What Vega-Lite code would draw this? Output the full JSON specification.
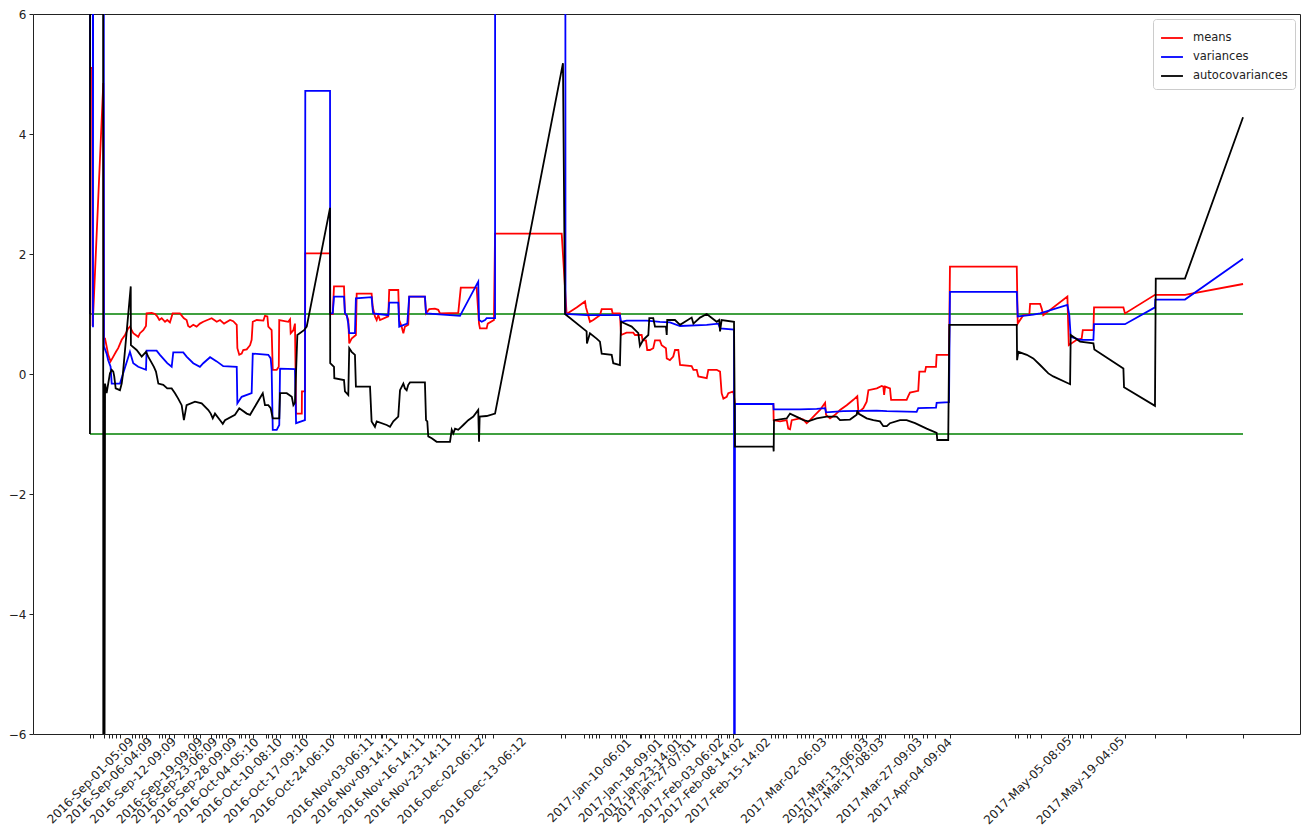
{
"$schema":"https://vega.github.io/schema/vega-lite/v6.json",
"width":1267,"height":720,
"autosize":{"type":"none"},
"padding":{"left":33,"top":14,"right":5,"bottom":98},
"background":"white",
"config":{
 "view":{"stroke":"#222","strokeWidth":1},
 "font":"DejaVu Sans",
 "axis":{"grid":false,"domain":false,"title":null,"labelFont":"DejaVu Sans","labelFontSize":12,"labelColor":"#222","tickColor":"#222","tickSize":4},
 "legend":{"orient":"top-right","offset":5,"padding":7,"strokeColor":"#cccccc","fillColor":"white","cornerRadius":3,"symbolType":"stroke","symbolSize":480,"symbolStrokeWidth":1.8,"labelFontSize":11.5,"labelFont":"DejaVu Sans","labelColor":"#222","rowPadding":1,"labelOffset":9,"title":null}
},
"datasets":{
"bounds":[{"date":"2016-09-01T05:00","end":"2017-07-01T00:00","value":1},{"date":"2016-09-01T05:00","end":"2017-07-01T00:00","value":-1}],
"series":[
{"series":"means","date":"2016-09-01T05:00","value":5.1},
{"series":"means","date":"2016-09-01T18:00","value":5.1},
{"series":"means","date":"2016-09-01T22:00","value":0.8},
{"series":"means","date":"2016-09-04T17:00","value":4.85},
{"series":"means","date":"2016-09-04T21:00","value":0.59},
{"series":"means","date":"2016-09-05T04:00","value":0.59},
{"series":"means","date":"2016-09-05T14:00","value":0.46},
{"series":"means","date":"2016-09-06T00:00","value":0.32},
{"series":"means","date":"2016-09-06T15:00","value":0.21},
{"series":"means","date":"2016-09-07T08:00","value":0.29},
{"series":"means","date":"2016-09-08T01:00","value":0.37},
{"series":"means","date":"2016-09-08T15:00","value":0.43},
{"series":"means","date":"2016-09-09T13:00","value":0.57},
{"series":"means","date":"2016-09-10T10:00","value":0.65},
{"series":"means","date":"2016-09-11T06:00","value":0.76},
{"series":"means","date":"2016-09-11T17:00","value":0.79},
{"series":"means","date":"2016-09-12T04:00","value":0.73},
{"series":"means","date":"2016-09-12T14:00","value":0.68},
{"series":"means","date":"2016-09-13T21:00","value":0.62},
{"series":"means","date":"2016-09-14T08:00","value":0.68},
{"series":"means","date":"2016-09-15T05:00","value":0.73},
{"series":"means","date":"2016-09-15T22:00","value":0.8},
{"series":"means","date":"2016-09-16T02:00","value":1.01},
{"series":"means","date":"2016-09-17T10:00","value":1.02},
{"series":"means","date":"2016-09-18T07:00","value":1.0},
{"series":"means","date":"2016-09-18T21:00","value":0.96},
{"series":"means","date":"2016-09-19T10:00","value":0.9},
{"series":"means","date":"2016-09-20T01:00","value":0.93},
{"series":"means","date":"2016-09-20T22:00","value":0.87},
{"series":"means","date":"2016-09-21T12:00","value":0.9},
{"series":"means","date":"2016-09-22T05:00","value":0.86},
{"series":"means","date":"2016-09-22T22:00","value":1.01},
{"series":"means","date":"2016-09-24T20:00","value":1.01},
{"series":"means","date":"2016-09-25T21:00","value":0.93},
{"series":"means","date":"2016-09-26T14:00","value":0.9},
{"series":"means","date":"2016-09-27T00:00","value":0.8},
{"series":"means","date":"2016-09-27T11:00","value":0.78},
{"series":"means","date":"2016-09-28T08:00","value":0.82},
{"series":"means","date":"2016-09-29T05:00","value":0.79},
{"series":"means","date":"2016-09-30T02:00","value":0.84},
{"series":"means","date":"2016-09-30T23:00","value":0.87},
{"series":"means","date":"2016-10-02T01:00","value":0.9},
{"series":"means","date":"2016-10-03T04:00","value":0.93},
{"series":"means","date":"2016-10-04T12:00","value":0.87},
{"series":"means","date":"2016-10-05T09:00","value":0.9},
{"series":"means","date":"2016-10-06T10:00","value":0.84},
{"series":"means","date":"2016-10-08T00:00","value":0.9},
{"series":"means","date":"2016-10-08T20:00","value":0.88},
{"series":"means","date":"2016-10-09T18:00","value":0.82},
{"series":"means","date":"2016-10-09T22:00","value":0.43},
{"series":"means","date":"2016-10-10T10:00","value":0.32},
{"series":"means","date":"2016-10-11T01:00","value":0.34},
{"series":"means","date":"2016-10-11T11:00","value":0.4},
{"series":"means","date":"2016-10-12T09:00","value":0.41},
{"series":"means","date":"2016-10-13T06:00","value":0.48},
{"series":"means","date":"2016-10-13T16:00","value":0.57},
{"series":"means","date":"2016-10-13T23:00","value":0.87},
{"series":"means","date":"2016-10-15T00:00","value":0.9},
{"series":"means","date":"2016-10-16T18:00","value":0.89},
{"series":"means","date":"2016-10-17T04:00","value":0.97},
{"series":"means","date":"2016-10-17T19:00","value":0.96},
{"series":"means","date":"2016-10-18T01:00","value":0.79},
{"series":"means","date":"2016-10-18T22:00","value":0.73},
{"series":"means","date":"2016-10-19T05:00","value":0.07},
{"series":"means","date":"2016-10-20T06:00","value":0.07},
{"series":"means","date":"2016-10-20T19:00","value":0.12},
{"series":"means","date":"2016-10-20T22:00","value":0.9},
{"series":"means","date":"2016-10-23T07:00","value":0.87},
{"series":"means","date":"2016-10-23T18:00","value":0.91},
{"series":"means","date":"2016-10-23T22:00","value":0.68},
{"series":"means","date":"2016-10-24T15:00","value":0.73},
{"series":"means","date":"2016-10-25T01:00","value":0.84},
{"series":"means","date":"2016-10-25T08:00","value":-0.66},
{"series":"means","date":"2016-10-26T20:00","value":-0.66},
{"series":"means","date":"2016-10-26T21:00","value":-0.29},
{"series":"means","date":"2016-10-27T16:00","value":-0.29},
{"series":"means","date":"2016-10-27T18:00","value":2.01},
{"series":"means","date":"2016-11-03T06:00","value":2.01},
{"series":"means","date":"2016-11-03T07:00","value":1.0},
{"series":"means","date":"2016-11-03T23:00","value":1.0},
{"series":"means","date":"2016-11-04T07:00","value":1.46},
{"series":"means","date":"2016-11-06T22:00","value":1.46},
{"series":"means","date":"2016-11-07T04:00","value":1.0},
{"series":"means","date":"2016-11-07T15:00","value":0.98},
{"series":"means","date":"2016-11-08T01:00","value":0.9},
{"series":"means","date":"2016-11-08T07:00","value":0.51},
{"series":"means","date":"2016-11-08T22:00","value":0.59},
{"series":"means","date":"2016-11-10T01:00","value":0.65},
{"series":"means","date":"2016-11-10T06:00","value":1.34},
{"series":"means","date":"2016-11-14T04:00","value":1.34},
{"series":"means","date":"2016-11-14T11:00","value":1.12},
{"series":"means","date":"2016-11-15T01:00","value":0.96},
{"series":"means","date":"2016-11-15T12:00","value":0.9},
{"series":"means","date":"2016-11-15T22:00","value":0.98},
{"series":"means","date":"2016-11-16T09:00","value":0.9},
{"series":"means","date":"2016-11-18T13:00","value":0.96},
{"series":"means","date":"2016-11-18T19:00","value":1.4},
{"series":"means","date":"2016-11-21T04:00","value":1.4},
{"series":"means","date":"2016-11-21T10:00","value":0.9},
{"series":"means","date":"2016-11-22T01:00","value":0.79},
{"series":"means","date":"2016-11-22T12:00","value":0.68},
{"series":"means","date":"2016-11-22T22:00","value":0.79},
{"series":"means","date":"2016-11-23T19:00","value":0.82},
{"series":"means","date":"2016-11-24T01:00","value":1.29},
{"series":"means","date":"2016-11-28T04:00","value":1.29},
{"series":"means","date":"2016-11-28T11:00","value":1.01},
{"series":"means","date":"2016-11-29T07:00","value":1.08},
{"series":"means","date":"2016-11-30T19:00","value":1.09},
{"series":"means","date":"2016-12-01T16:00","value":1.07},
{"series":"means","date":"2016-12-02T03:00","value":1.01},
{"series":"means","date":"2016-12-06T22:00","value":1.02},
{"series":"means","date":"2016-12-07T14:00","value":1.44},
{"series":"means","date":"2016-12-11T18:00","value":1.44},
{"series":"means","date":"2016-12-12T09:00","value":0.84},
{"series":"means","date":"2016-12-12T15:00","value":0.76},
{"series":"means","date":"2016-12-14T09:00","value":0.76},
{"series":"means","date":"2016-12-14T16:00","value":0.84},
{"series":"means","date":"2016-12-16T07:00","value":0.9},
{"series":"means","date":"2016-12-16T14:00","value":2.34},
{"series":"means","date":"2017-01-03T02:00","value":2.34},
{"series":"means","date":"2017-01-04T09:00","value":1.0},
{"series":"means","date":"2017-01-07T00:00","value":1.11},
{"series":"means","date":"2017-01-09T05:00","value":1.21},
{"series":"means","date":"2017-01-09T11:00","value":1.11},
{"series":"means","date":"2017-01-10T01:00","value":0.98},
{"series":"means","date":"2017-01-10T12:00","value":0.87},
{"series":"means","date":"2017-01-11T09:00","value":0.9},
{"series":"means","date":"2017-01-13T03:00","value":0.98},
{"series":"means","date":"2017-01-13T14:00","value":1.08},
{"series":"means","date":"2017-01-16T05:00","value":1.08},
{"series":"means","date":"2017-01-16T11:00","value":1.01},
{"series":"means","date":"2017-01-18T09:00","value":1.01},
{"series":"means","date":"2017-01-18T16:00","value":0.65},
{"series":"means","date":"2017-01-20T03:00","value":0.69},
{"series":"means","date":"2017-01-21T21:00","value":0.69},
{"series":"means","date":"2017-01-22T08:00","value":0.65},
{"series":"means","date":"2017-01-24T02:00","value":0.65},
{"series":"means","date":"2017-01-24T08:00","value":0.56},
{"series":"means","date":"2017-01-25T05:00","value":0.56},
{"series":"means","date":"2017-01-25T13:00","value":0.4},
{"series":"means","date":"2017-01-26T06:00","value":0.4},
{"series":"means","date":"2017-01-27T03:00","value":0.43},
{"series":"means","date":"2017-01-27T14:00","value":0.56},
{"series":"means","date":"2017-01-28T21:00","value":0.56},
{"series":"means","date":"2017-01-29T08:00","value":0.48},
{"series":"means","date":"2017-01-30T11:00","value":0.43},
{"series":"means","date":"2017-01-30T16:00","value":0.26},
{"series":"means","date":"2017-01-31T12:00","value":0.23},
{"series":"means","date":"2017-02-01T09:00","value":0.29},
{"series":"means","date":"2017-02-01T20:00","value":0.4},
{"series":"means","date":"2017-02-02T17:00","value":0.4},
{"series":"means","date":"2017-02-03T04:00","value":0.15},
{"series":"means","date":"2017-02-06T05:00","value":0.13},
{"series":"means","date":"2017-02-06T16:00","value":0.07},
{"series":"means","date":"2017-02-07T13:00","value":0.07},
{"series":"means","date":"2017-02-07T23:00","value":-0.04},
{"series":"means","date":"2017-02-10T04:00","value":-0.07},
{"series":"means","date":"2017-02-10T14:00","value":0.07},
{"series":"means","date":"2017-02-12T19:00","value":0.07},
{"series":"means","date":"2017-02-13T16:00","value":0.04},
{"series":"means","date":"2017-02-14T02:00","value":-0.32},
{"series":"means","date":"2017-02-14T13:00","value":-0.41},
{"series":"means","date":"2017-02-15T10:00","value":-0.38},
{"series":"means","date":"2017-02-15T20:00","value":-0.32},
{"series":"means","date":"2017-02-17T04:00","value":-0.29},
{"series":"means","date":"2017-02-17T14:00","value":-0.5},
{"series":"means","date":"2017-02-27T16:00","value":-0.5},
{"series":"means","date":"2017-02-27T18:00","value":-0.77},
{"series":"means","date":"2017-03-01T10:00","value":-0.79},
{"series":"means","date":"2017-03-03T04:00","value":-0.77},
{"series":"means","date":"2017-03-03T14:00","value":-0.91},
{"series":"means","date":"2017-03-04T01:00","value":-0.92},
{"series":"means","date":"2017-03-04T12:00","value":-0.77},
{"series":"means","date":"2017-03-06T16:00","value":-0.74},
{"series":"means","date":"2017-03-07T13:00","value":-0.76},
{"series":"means","date":"2017-03-08T10:00","value":-0.82},
{"series":"means","date":"2017-03-09T07:00","value":-0.77},
{"series":"means","date":"2017-03-10T15:00","value":-0.68},
{"series":"means","date":"2017-03-11T22:00","value":-0.6},
{"series":"means","date":"2017-03-13T06:00","value":-0.48},
{"series":"means","date":"2017-03-13T12:00","value":-0.68},
{"series":"means","date":"2017-03-14T13:00","value":-0.74},
{"series":"means","date":"2017-03-15T21:00","value":-0.68},
{"series":"means","date":"2017-03-17T04:00","value":-0.6},
{"series":"means","date":"2017-03-18T22:00","value":-0.52},
{"series":"means","date":"2017-03-20T16:00","value":-0.43},
{"series":"means","date":"2017-03-21T17:00","value":-0.37},
{"series":"means","date":"2017-03-22T00:00","value":-0.64},
{"series":"means","date":"2017-03-23T07:00","value":-0.57},
{"series":"means","date":"2017-03-24T04:00","value":-0.46},
{"series":"means","date":"2017-03-24T15:00","value":-0.27},
{"series":"means","date":"2017-03-26T20:00","value":-0.24},
{"series":"means","date":"2017-03-28T03:00","value":-0.2},
{"series":"means","date":"2017-03-28T13:00","value":-0.21},
{"series":"means","date":"2017-03-28T18:00","value":-0.35},
{"series":"means","date":"2017-03-29T00:00","value":-0.21},
{"series":"means","date":"2017-03-30T07:00","value":-0.24},
{"series":"means","date":"2017-03-30T14:00","value":-0.43},
{"series":"means","date":"2017-04-03T16:00","value":-0.43},
{"series":"means","date":"2017-04-04T02:00","value":-0.37},
{"series":"means","date":"2017-04-04T13:00","value":-0.31},
{"series":"means","date":"2017-04-06T17:00","value":-0.28},
{"series":"means","date":"2017-04-07T00:00","value":0.04},
{"series":"means","date":"2017-04-08T12:00","value":0.04},
{"series":"means","date":"2017-04-08T18:00","value":0.12},
{"series":"means","date":"2017-04-11T09:00","value":0.12},
{"series":"means","date":"2017-04-11T13:00","value":0.32},
{"series":"means","date":"2017-04-14T19:00","value":0.32},
{"series":"means","date":"2017-04-15T01:00","value":1.79},
{"series":"means","date":"2017-05-02T14:00","value":1.79},
{"series":"means","date":"2017-05-02T20:00","value":0.84},
{"series":"means","date":"2017-05-04T07:00","value":0.98},
{"series":"means","date":"2017-05-05T21:00","value":0.98},
{"series":"means","date":"2017-05-06T02:00","value":1.17},
{"series":"means","date":"2017-05-08T17:00","value":1.17},
{"series":"means","date":"2017-05-09T03:00","value":1.09},
{"series":"means","date":"2017-05-09T13:00","value":0.98},
{"series":"means","date":"2017-05-15T21:00","value":1.29},
{"series":"means","date":"2017-05-16T06:00","value":0.48},
{"series":"means","date":"2017-05-18T08:00","value":0.57},
{"series":"means","date":"2017-05-19T15:00","value":0.59},
{"series":"means","date":"2017-05-19T22:00","value":0.73},
{"series":"means","date":"2017-05-22T17:00","value":0.73},
{"series":"means","date":"2017-05-22T21:00","value":1.11},
{"series":"means","date":"2017-05-30T14:00","value":1.11},
{"series":"means","date":"2017-05-31T00:00","value":1.01},
{"series":"means","date":"2017-06-07T21:00","value":1.32},
{"series":"means","date":"2017-06-15T18:00","value":1.32},
{"series":"means","date":"2017-07-01T00:00","value":1.5},
{"series":"variances","date":"2016-09-01T05:00","value":1.0},
{"series":"variances","date":"2016-09-01T07:00","value":20},
{"series":"variances","date":"2016-09-01T21:00","value":20},
{"series":"variances","date":"2016-09-02T00:00","value":0.78},
{"series":"variances","date":"2016-09-02T03:00","value":20},
{"series":"variances","date":"2016-09-04T18:00","value":20},
{"series":"variances","date":"2016-09-04T21:00","value":0.46},
{"series":"variances","date":"2016-09-05T14:00","value":0.34},
{"series":"variances","date":"2016-09-06T00:00","value":0.23},
{"series":"variances","date":"2016-09-06T15:00","value":0.12},
{"series":"variances","date":"2016-09-06T22:00","value":-0.16},
{"series":"variances","date":"2016-09-09T02:00","value":-0.16},
{"series":"variances","date":"2016-09-11T17:00","value":0.37},
{"series":"variances","date":"2016-09-12T14:00","value":0.18},
{"series":"variances","date":"2016-09-13T21:00","value":0.12},
{"series":"variances","date":"2016-09-15T22:00","value":0.07},
{"series":"variances","date":"2016-09-16T02:00","value":0.39},
{"series":"variances","date":"2016-09-18T17:00","value":0.39},
{"series":"variances","date":"2016-09-19T14:00","value":0.32},
{"series":"variances","date":"2016-09-21T12:00","value":0.18},
{"series":"variances","date":"2016-09-22T16:00","value":0.12},
{"series":"variances","date":"2016-09-23T02:00","value":0.36},
{"series":"variances","date":"2016-09-25T17:00","value":0.36},
{"series":"variances","date":"2016-09-26T14:00","value":0.29},
{"series":"variances","date":"2016-09-28T08:00","value":0.18},
{"series":"variances","date":"2016-09-30T02:00","value":0.12},
{"series":"variances","date":"2016-09-30T23:00","value":0.18},
{"series":"variances","date":"2016-10-02T18:00","value":0.28},
{"series":"variances","date":"2016-10-04T12:00","value":0.21},
{"series":"variances","date":"2016-10-06T05:00","value":0.13},
{"series":"variances","date":"2016-10-09T18:00","value":0.12},
{"series":"variances","date":"2016-10-09T22:00","value":-0.49},
{"series":"variances","date":"2016-10-11T01:00","value":-0.38},
{"series":"variances","date":"2016-10-13T16:00","value":-0.32},
{"series":"variances","date":"2016-10-13T23:00","value":0.34},
{"series":"variances","date":"2016-10-18T01:00","value":0.32},
{"series":"variances","date":"2016-10-18T16:00","value":0.26},
{"series":"variances","date":"2016-10-18T22:00","value":0.07},
{"series":"variances","date":"2016-10-19T05:00","value":-0.93},
{"series":"variances","date":"2016-10-20T06:00","value":-0.93},
{"series":"variances","date":"2016-10-20T22:00","value":-0.85},
{"series":"variances","date":"2016-10-21T03:00","value":0.09},
{"series":"variances","date":"2016-10-25T01:00","value":0.08},
{"series":"variances","date":"2016-10-25T08:00","value":-0.82},
{"series":"variances","date":"2016-10-27T16:00","value":-0.77},
{"series":"variances","date":"2016-10-27T18:00","value":4.72},
{"series":"variances","date":"2016-11-03T06:00","value":4.72},
{"series":"variances","date":"2016-11-03T07:00","value":1.01},
{"series":"variances","date":"2016-11-03T23:00","value":1.01},
{"series":"variances","date":"2016-11-04T07:00","value":1.29},
{"series":"variances","date":"2016-11-06T22:00","value":1.29},
{"series":"variances","date":"2016-11-07T04:00","value":1.01},
{"series":"variances","date":"2016-11-07T15:00","value":0.98},
{"series":"variances","date":"2016-11-08T01:00","value":0.84},
{"series":"variances","date":"2016-11-08T07:00","value":0.68},
{"series":"variances","date":"2016-11-09T19:00","value":0.68},
{"series":"variances","date":"2016-11-10T01:00","value":1.26},
{"series":"variances","date":"2016-11-14T04:00","value":1.28},
{"series":"variances","date":"2016-11-14T11:00","value":1.07},
{"series":"variances","date":"2016-11-14T14:00","value":1.01},
{"series":"variances","date":"2016-11-18T13:00","value":0.98},
{"series":"variances","date":"2016-11-18T19:00","value":1.19},
{"series":"variances","date":"2016-11-21T04:00","value":1.19},
{"series":"variances","date":"2016-11-21T10:00","value":0.79},
{"series":"variances","date":"2016-11-23T13:00","value":0.84},
{"series":"variances","date":"2016-11-24T01:00","value":1.29},
{"series":"variances","date":"2016-11-28T04:00","value":1.29},
{"series":"variances","date":"2016-11-28T11:00","value":1.01},
{"series":"variances","date":"2016-12-07T09:00","value":0.97},
{"series":"variances","date":"2016-12-12T04:00","value":1.54},
{"series":"variances","date":"2016-12-12T09:00","value":0.9},
{"series":"variances","date":"2016-12-13T02:00","value":0.87},
{"series":"variances","date":"2016-12-13T23:00","value":0.9},
{"series":"variances","date":"2016-12-14T09:00","value":0.93},
{"series":"variances","date":"2016-12-16T14:00","value":0.93},
{"series":"variances","date":"2016-12-16T15:00","value":20},
{"series":"variances","date":"2017-01-03T23:00","value":20},
{"series":"variances","date":"2017-01-04T02:00","value":1.0},
{"series":"variances","date":"2017-01-09T15:00","value":0.98},
{"series":"variances","date":"2017-01-18T09:00","value":0.98},
{"series":"variances","date":"2017-01-18T16:00","value":0.87},
{"series":"variances","date":"2017-01-20T03:00","value":0.89},
{"series":"variances","date":"2017-01-25T10:00","value":0.89},
{"series":"variances","date":"2017-01-28T21:00","value":0.87},
{"series":"variances","date":"2017-01-31T12:00","value":0.86},
{"series":"variances","date":"2017-02-03T04:00","value":0.8},
{"series":"variances","date":"2017-02-10T04:00","value":0.82},
{"series":"variances","date":"2017-02-13T05:00","value":0.84},
{"series":"variances","date":"2017-02-13T16:00","value":0.76},
{"series":"variances","date":"2017-02-17T08:00","value":0.74},
{"series":"variances","date":"2017-02-17T10:00","value":-20},
{"series":"variances","date":"2017-02-17T14:00","value":-0.5},
{"series":"variances","date":"2017-02-27T16:00","value":-0.5},
{"series":"variances","date":"2017-02-27T18:00","value":-0.59},
{"series":"variances","date":"2017-03-06T16:00","value":-0.59},
{"series":"variances","date":"2017-03-11T01:00","value":-0.58},
{"series":"variances","date":"2017-03-13T06:00","value":-0.57},
{"series":"variances","date":"2017-03-13T12:00","value":-0.64},
{"series":"variances","date":"2017-03-18T01:00","value":-0.62},
{"series":"variances","date":"2017-03-26T20:00","value":-0.61},
{"series":"variances","date":"2017-03-29T11:00","value":-0.62},
{"series":"variances","date":"2017-04-06T07:00","value":-0.63},
{"series":"variances","date":"2017-04-06T17:00","value":-0.57},
{"series":"variances","date":"2017-04-11T09:00","value":-0.56},
{"series":"variances","date":"2017-04-11T13:00","value":-0.48},
{"series":"variances","date":"2017-04-14T19:00","value":-0.47},
{"series":"variances","date":"2017-04-15T01:00","value":1.37},
{"series":"variances","date":"2017-05-02T14:00","value":1.37},
{"series":"variances","date":"2017-05-02T20:00","value":0.96},
{"series":"variances","date":"2017-05-06T22:00","value":0.99},
{"series":"variances","date":"2017-05-08T17:00","value":1.01},
{"series":"variances","date":"2017-05-15T21:00","value":1.15},
{"series":"variances","date":"2017-05-16T09:00","value":0.98},
{"series":"variances","date":"2017-05-16T18:00","value":0.62},
{"series":"variances","date":"2017-05-19T05:00","value":0.57},
{"series":"variances","date":"2017-05-22T17:00","value":0.57},
{"series":"variances","date":"2017-05-22T21:00","value":0.83},
{"series":"variances","date":"2017-05-31T00:00","value":0.83},
{"series":"variances","date":"2017-06-07T21:00","value":1.11},
{"series":"variances","date":"2017-06-07T23:00","value":1.24},
{"series":"variances","date":"2017-06-15T18:00","value":1.24},
{"series":"variances","date":"2017-07-01T00:00","value":1.92},
{"series":"autocovariances","date":"2016-09-01T05:00","value":-1},
{"series":"autocovariances","date":"2016-09-01T07:00","value":20},
{"series":"autocovariances","date":"2016-09-04T15:00","value":20},
{"series":"autocovariances","date":"2016-09-04T18:00","value":-20},
{"series":"autocovariances","date":"2016-09-05T04:00","value":-0.16},
{"series":"autocovariances","date":"2016-09-05T14:00","value":-0.32},
{"series":"autocovariances","date":"2016-09-06T00:00","value":-0.16},
{"series":"autocovariances","date":"2016-09-06T11:00","value":0.01},
{"series":"autocovariances","date":"2016-09-06T22:00","value":0.07},
{"series":"autocovariances","date":"2016-09-07T08:00","value":0.04},
{"series":"autocovariances","date":"2016-09-07T14:00","value":-0.04},
{"series":"autocovariances","date":"2016-09-07T23:00","value":-0.24},
{"series":"autocovariances","date":"2016-09-09T02:00","value":-0.27},
{"series":"autocovariances","date":"2016-09-09T13:00","value":-0.16},
{"series":"autocovariances","date":"2016-09-09T19:00","value":-0.04},
{"series":"autocovariances","date":"2016-09-11T22:00","value":1.46},
{"series":"autocovariances","date":"2016-09-11T23:00","value":0.48},
{"series":"autocovariances","date":"2016-09-13T11:00","value":0.4},
{"series":"autocovariances","date":"2016-09-14T19:00","value":0.29},
{"series":"autocovariances","date":"2016-09-15T05:00","value":0.32},
{"series":"autocovariances","date":"2016-09-15T22:00","value":0.37},
{"series":"autocovariances","date":"2016-09-16T12:00","value":0.29},
{"series":"autocovariances","date":"2016-09-18T00:00","value":0.12},
{"series":"autocovariances","date":"2016-09-18T13:00","value":0.04},
{"series":"autocovariances","date":"2016-09-19T04:00","value":-0.16},
{"series":"autocovariances","date":"2016-09-20T11:00","value":-0.18},
{"series":"autocovariances","date":"2016-09-21T12:00","value":-0.24},
{"series":"autocovariances","date":"2016-09-22T16:00","value":-0.24},
{"series":"autocovariances","date":"2016-09-23T13:00","value":-0.32},
{"series":"autocovariances","date":"2016-09-24T09:00","value":-0.41},
{"series":"autocovariances","date":"2016-09-25T07:00","value":-0.52},
{"series":"autocovariances","date":"2016-09-25T21:00","value":-0.77},
{"series":"autocovariances","date":"2016-09-26T14:00","value":-0.52},
{"series":"autocovariances","date":"2016-09-28T19:00","value":-0.46},
{"series":"autocovariances","date":"2016-09-30T13:00","value":-0.49},
{"series":"autocovariances","date":"2016-10-02T07:00","value":-0.6},
{"series":"autocovariances","date":"2016-10-02T22:00","value":-0.66},
{"series":"autocovariances","date":"2016-10-03T11:00","value":-0.74},
{"series":"autocovariances","date":"2016-10-04T01:00","value":-0.66},
{"series":"autocovariances","date":"2016-10-05T09:00","value":-0.77},
{"series":"autocovariances","date":"2016-10-06T02:00","value":-0.83},
{"series":"autocovariances","date":"2016-10-06T16:00","value":-0.77},
{"series":"autocovariances","date":"2016-10-09T07:00","value":-0.68},
{"series":"autocovariances","date":"2016-10-10T10:00","value":-0.57},
{"series":"autocovariances","date":"2016-10-12T09:00","value":-0.66},
{"series":"autocovariances","date":"2016-10-13T06:00","value":-0.68},
{"series":"autocovariances","date":"2016-10-16T14:00","value":-0.32},
{"series":"autocovariances","date":"2016-10-17T04:00","value":-0.52},
{"series":"autocovariances","date":"2016-10-18T01:00","value":-0.52},
{"series":"autocovariances","date":"2016-10-18T16:00","value":-0.57},
{"series":"autocovariances","date":"2016-10-19T05:00","value":-0.74},
{"series":"autocovariances","date":"2016-10-20T22:00","value":-0.74},
{"series":"autocovariances","date":"2016-10-21T03:00","value":-0.32},
{"series":"autocovariances","date":"2016-10-22T21:00","value":-0.32},
{"series":"autocovariances","date":"2016-10-24T05:00","value":-0.38},
{"series":"autocovariances","date":"2016-10-24T15:00","value":-0.52},
{"series":"autocovariances","date":"2016-10-25T01:00","value":-0.48},
{"series":"autocovariances","date":"2016-10-25T16:00","value":0.65},
{"series":"autocovariances","date":"2016-10-27T10:00","value":0.73},
{"series":"autocovariances","date":"2016-10-28T03:00","value":0.79},
{"series":"autocovariances","date":"2016-11-03T06:00","value":2.77},
{"series":"autocovariances","date":"2016-11-03T07:00","value":0.18},
{"series":"autocovariances","date":"2016-11-04T07:00","value":0.12},
{"series":"autocovariances","date":"2016-11-04T09:00","value":-0.07},
{"series":"autocovariances","date":"2016-11-06T22:00","value":-0.1},
{"series":"autocovariances","date":"2016-11-07T04:00","value":-0.29},
{"series":"autocovariances","date":"2016-11-08T01:00","value":-0.35},
{"series":"autocovariances","date":"2016-11-08T07:00","value":0.43},
{"series":"autocovariances","date":"2016-11-08T22:00","value":0.37},
{"series":"autocovariances","date":"2016-11-09T19:00","value":0.32},
{"series":"autocovariances","date":"2016-11-10T01:00","value":-0.21},
{"series":"autocovariances","date":"2016-11-13T18:00","value":-0.21},
{"series":"autocovariances","date":"2016-11-14T04:00","value":-0.79},
{"series":"autocovariances","date":"2016-11-15T01:00","value":-0.88},
{"series":"autocovariances","date":"2016-11-15T12:00","value":-0.79},
{"series":"autocovariances","date":"2016-11-18T03:00","value":-0.85},
{"series":"autocovariances","date":"2016-11-19T00:00","value":-0.88},
{"series":"autocovariances","date":"2016-11-19T21:00","value":-0.79},
{"series":"autocovariances","date":"2016-11-21T04:00","value":-0.71},
{"series":"autocovariances","date":"2016-11-21T15:00","value":-0.27},
{"series":"autocovariances","date":"2016-11-22T12:00","value":-0.16},
{"series":"autocovariances","date":"2016-11-22T22:00","value":-0.24},
{"series":"autocovariances","date":"2016-11-23T09:00","value":-0.27},
{"series":"autocovariances","date":"2016-11-23T19:00","value":-0.18},
{"series":"autocovariances","date":"2016-11-24T06:00","value":-0.14},
{"series":"autocovariances","date":"2016-11-28T04:00","value":-0.14},
{"series":"autocovariances","date":"2016-11-28T11:00","value":-0.77},
{"series":"autocovariances","date":"2016-11-28T19:00","value":-0.79},
{"series":"autocovariances","date":"2016-11-29T01:00","value":-1.04},
{"series":"autocovariances","date":"2016-11-29T23:00","value":-1.07},
{"series":"autocovariances","date":"2016-12-01T06:00","value":-1.13},
{"series":"autocovariances","date":"2016-12-04T18:00","value":-1.13},
{"series":"autocovariances","date":"2016-12-05T05:00","value":-0.93},
{"series":"autocovariances","date":"2016-12-05T15:00","value":-0.99},
{"series":"autocovariances","date":"2016-12-06T02:00","value":-0.91},
{"series":"autocovariances","date":"2016-12-06T22:00","value":-0.93},
{"series":"autocovariances","date":"2016-12-08T06:00","value":-0.85},
{"series":"autocovariances","date":"2016-12-09T13:00","value":-0.77},
{"series":"autocovariances","date":"2016-12-10T21:00","value":-0.71},
{"series":"autocovariances","date":"2016-12-12T04:00","value":-0.6},
{"series":"autocovariances","date":"2016-12-12T09:00","value":-1.13},
{"series":"autocovariances","date":"2016-12-12T13:00","value":-0.71},
{"series":"autocovariances","date":"2016-12-14T09:00","value":-0.7},
{"series":"autocovariances","date":"2016-12-16T14:00","value":-0.66},
{"series":"autocovariances","date":"2017-01-03T10:00","value":5.18},
{"series":"autocovariances","date":"2017-01-03T23:00","value":1.0},
{"series":"autocovariances","date":"2017-01-09T15:00","value":0.71},
{"series":"autocovariances","date":"2017-01-09T17:00","value":0.51},
{"series":"autocovariances","date":"2017-01-10T12:00","value":0.68},
{"series":"autocovariances","date":"2017-01-12T06:00","value":0.59},
{"series":"autocovariances","date":"2017-01-13T03:00","value":0.54},
{"series":"autocovariances","date":"2017-01-13T14:00","value":0.34},
{"series":"autocovariances","date":"2017-01-16T05:00","value":0.32},
{"series":"autocovariances","date":"2017-01-16T15:00","value":0.18},
{"series":"autocovariances","date":"2017-01-18T09:00","value":0.15},
{"series":"autocovariances","date":"2017-01-18T16:00","value":0.87},
{"series":"autocovariances","date":"2017-01-21T11:00","value":0.79},
{"series":"autocovariances","date":"2017-01-23T05:00","value":0.68},
{"series":"autocovariances","date":"2017-01-23T15:00","value":0.47},
{"series":"autocovariances","date":"2017-01-24T12:00","value":0.57},
{"series":"autocovariances","date":"2017-01-25T20:00","value":0.65},
{"series":"autocovariances","date":"2017-01-26T02:00","value":0.93},
{"series":"autocovariances","date":"2017-01-27T03:00","value":0.93},
{"series":"autocovariances","date":"2017-01-27T14:00","value":0.79},
{"series":"autocovariances","date":"2017-01-30T11:00","value":0.79},
{"series":"autocovariances","date":"2017-01-30T16:00","value":0.65},
{"series":"autocovariances","date":"2017-01-30T19:00","value":0.9},
{"series":"autocovariances","date":"2017-02-01T20:00","value":0.9},
{"series":"autocovariances","date":"2017-02-03T04:00","value":0.82},
{"series":"autocovariances","date":"2017-02-06T05:00","value":0.94},
{"series":"autocovariances","date":"2017-02-06T16:00","value":0.84},
{"series":"autocovariances","date":"2017-02-08T10:00","value":0.94},
{"series":"autocovariances","date":"2017-02-10T04:00","value":1.0},
{"series":"autocovariances","date":"2017-02-12T19:00","value":0.87},
{"series":"autocovariances","date":"2017-02-13T11:00","value":0.9},
{"series":"autocovariances","date":"2017-02-13T16:00","value":0.71},
{"series":"autocovariances","date":"2017-02-14T02:00","value":0.9},
{"series":"autocovariances","date":"2017-02-17T08:00","value":0.87},
{"series":"autocovariances","date":"2017-02-17T14:00","value":-1.21},
{"series":"autocovariances","date":"2017-02-27T16:00","value":-1.21},
{"series":"autocovariances","date":"2017-02-27T18:00","value":-1.29},
{"series":"autocovariances","date":"2017-02-27T20:00","value":-0.77},
{"series":"autocovariances","date":"2017-03-03T04:00","value":-0.74},
{"series":"autocovariances","date":"2017-03-04T01:00","value":-0.66},
{"series":"autocovariances","date":"2017-03-06T16:00","value":-0.74},
{"series":"autocovariances","date":"2017-03-07T13:00","value":-0.77},
{"series":"autocovariances","date":"2017-03-08T20:00","value":-0.79},
{"series":"autocovariances","date":"2017-03-11T01:00","value":-0.74},
{"series":"autocovariances","date":"2017-03-13T16:00","value":-0.71},
{"series":"autocovariances","date":"2017-03-16T07:00","value":-0.71},
{"series":"autocovariances","date":"2017-03-17T04:00","value":-0.77},
{"series":"autocovariances","date":"2017-03-19T19:00","value":-0.76},
{"series":"autocovariances","date":"2017-03-21T13:00","value":-0.68},
{"series":"autocovariances","date":"2017-03-21T17:00","value":-0.61},
{"series":"autocovariances","date":"2017-03-22T00:00","value":-0.66},
{"series":"autocovariances","date":"2017-03-24T04:00","value":-0.74},
{"series":"autocovariances","date":"2017-03-25T22:00","value":-0.77},
{"series":"autocovariances","date":"2017-03-27T16:00","value":-0.79},
{"series":"autocovariances","date":"2017-03-28T13:00","value":-0.87},
{"series":"autocovariances","date":"2017-03-29T11:00","value":-0.87},
{"series":"autocovariances","date":"2017-03-30T07:00","value":-0.82},
{"series":"autocovariances","date":"2017-04-01T22:00","value":-0.77},
{"series":"autocovariances","date":"2017-04-03T16:00","value":-0.77},
{"series":"autocovariances","date":"2017-04-05T21:00","value":-0.82},
{"series":"autocovariances","date":"2017-04-08T22:00","value":-0.91},
{"series":"autocovariances","date":"2017-04-11T13:00","value":-0.98},
{"series":"autocovariances","date":"2017-04-11T17:00","value":-1.1},
{"series":"autocovariances","date":"2017-04-14T14:00","value":-1.1},
{"series":"autocovariances","date":"2017-04-14T21:00","value":0.82},
{"series":"autocovariances","date":"2017-05-02T14:00","value":0.82},
{"series":"autocovariances","date":"2017-05-02T16:00","value":0.23},
{"series":"autocovariances","date":"2017-05-03T00:00","value":0.37},
{"series":"autocovariances","date":"2017-05-05T05:00","value":0.32},
{"series":"autocovariances","date":"2017-05-06T22:00","value":0.26},
{"series":"autocovariances","date":"2017-05-08T17:00","value":0.15},
{"series":"autocovariances","date":"2017-05-10T21:00","value":0.01},
{"series":"autocovariances","date":"2017-05-12T04:00","value":-0.04},
{"series":"autocovariances","date":"2017-05-16T14:00","value":-0.17},
{"series":"autocovariances","date":"2017-05-16T18:00","value":0.65},
{"series":"autocovariances","date":"2017-05-19T05:00","value":0.54},
{"series":"autocovariances","date":"2017-05-22T17:00","value":0.51},
{"series":"autocovariances","date":"2017-05-22T23:00","value":0.41},
{"series":"autocovariances","date":"2017-05-30T14:00","value":0.09},
{"series":"autocovariances","date":"2017-05-30T18:00","value":-0.22},
{"series":"autocovariances","date":"2017-06-07T21:00","value":-0.53},
{"series":"autocovariances","date":"2017-06-08T02:00","value":1.59},
{"series":"autocovariances","date":"2017-06-15T18:00","value":1.59},
{"series":"autocovariances","date":"2017-07-01T00:00","value":4.28}
]},
"encoding":{
 "x":{"field":"date","type":"temporal",
  "scale":{"domain":[{"year":2016,"month":8,"date":17,"hours":6},{"year":2017,"month":7,"date":15,"hours":23}],"nice":false},
  "axis":{"labelAngle":-45,"labelAlign":"center","labelBaseline":"middle","labelPadding":42,"labelOverlap":false,"labelFlush":false,"labelBound":false,"labelLimit":0,
   "labelExpr":"hours(datum.value) == 0 ? '' : timeFormat(datum.value, '%Y-%b-%d-%H:%m')",
   "values":[
{"year":2016,"month":9,"date":1,"hours":5},{"year":2016,"month":9,"date":6,"hours":4},{"year":2016,"month":9,"date":12,"hours":9},{"year":2016,"month":9,"date":19,"hours":9},{"year":2016,"month":9,"date":23,"hours":6},{"year":2016,"month":9,"date":28,"hours":9},{"year":2016,"month":10,"date":4,"hours":5},{"year":2016,"month":10,"date":10,"hours":8},{"year":2016,"month":10,"date":17,"hours":9},{"year":2016,"month":10,"date":24,"hours":6},{"year":2016,"month":11,"date":3,"hours":6},{"year":2016,"month":11,"date":9,"hours":14},{"year":2016,"month":11,"date":16,"hours":14},{"year":2016,"month":11,"date":23,"hours":14},{"year":2016,"month":12,"date":2,"hours":6},{"year":2016,"month":12,"date":13,"hours":6},
{"year":2017,"month":1,"date":10,"hours":6},{"year":2017,"month":1,"date":18,"hours":9},{"year":2017,"month":1,"date":23,"hours":14},{"year":2017,"month":1,"date":27,"hours":7},{"year":2017,"month":2,"date":3,"hours":6},{"year":2017,"month":2,"date":8,"hours":14},{"year":2017,"month":2,"date":15,"hours":14},{"year":2017,"month":3,"date":2,"hours":6},{"year":2017,"month":3,"date":13,"hours":6},{"year":2017,"month":3,"date":17,"hours":8},{"year":2017,"month":3,"date":27,"hours":9},{"year":2017,"month":4,"date":4,"hours":9},{"year":2017,"month":5,"date":5,"hours":8},{"year":2017,"month":5,"date":19,"hours":4},
{"year":2016,"month":9,"date":2},{"year":2016,"month":9,"date":5},{"year":2016,"month":9,"date":7},{"year":2016,"month":9,"date":8},{"year":2016,"month":9,"date":9},{"year":2016,"month":9,"date":13},{"year":2016,"month":9,"date":14},{"year":2016,"month":9,"date":15},{"year":2016,"month":9,"date":16},{"year":2016,"month":9,"date":20},{"year":2016,"month":9,"date":21},{"year":2016,"month":9,"date":22},{"year":2016,"month":9,"date":26},{"year":2016,"month":9,"date":27},{"year":2016,"month":9,"date":29},{"year":2016,"month":9,"date":30},
{"year":2016,"month":10,"date":3},{"year":2016,"month":10,"date":5},{"year":2016,"month":10,"date":6},{"year":2016,"month":10,"date":7},{"year":2016,"month":10,"date":11},{"year":2016,"month":10,"date":12},{"year":2016,"month":10,"date":13},{"year":2016,"month":10,"date":14},{"year":2016,"month":10,"date":18},{"year":2016,"month":10,"date":19},{"year":2016,"month":10,"date":20},{"year":2016,"month":10,"date":21},{"year":2016,"month":10,"date":25},{"year":2016,"month":10,"date":26},{"year":2016,"month":10,"date":27},{"year":2016,"month":10,"date":28},
{"year":2016,"month":11,"date":4},{"year":2016,"month":11,"date":7},{"year":2016,"month":11,"date":8},{"year":2016,"month":11,"date":10},{"year":2016,"month":11,"date":11},{"year":2016,"month":11,"date":14},{"year":2016,"month":11,"date":15},{"year":2016,"month":11,"date":17},{"year":2016,"month":11,"date":18},{"year":2016,"month":11,"date":21},{"year":2016,"month":11,"date":22},{"year":2016,"month":11,"date":25},{"year":2016,"month":11,"date":28},{"year":2016,"month":11,"date":29},{"year":2016,"month":11,"date":30},
{"year":2016,"month":12,"date":1},{"year":2016,"month":12,"date":5},{"year":2016,"month":12,"date":6},{"year":2016,"month":12,"date":7},{"year":2016,"month":12,"date":12},{"year":2016,"month":12,"date":14},{"year":2016,"month":12,"date":16},
{"year":2017,"month":1,"date":3},{"year":2017,"month":1,"date":4},{"year":2017,"month":1,"date":9},{"year":2017,"month":1,"date":11},{"year":2017,"month":1,"date":12},{"year":2017,"month":1,"date":13},{"year":2017,"month":1,"date":16},{"year":2017,"month":1,"date":17},{"year":2017,"month":1,"date":19},{"year":2017,"month":1,"date":20},{"year":2017,"month":1,"date":24},{"year":2017,"month":1,"date":25},{"year":2017,"month":1,"date":26},{"year":2017,"month":1,"date":30},{"year":2017,"month":1,"date":31},
{"year":2017,"month":2,"date":1},{"year":2017,"month":2,"date":2},{"year":2017,"month":2,"date":6},{"year":2017,"month":2,"date":7},{"year":2017,"month":2,"date":10},{"year":2017,"month":2,"date":13},{"year":2017,"month":2,"date":14},{"year":2017,"month":2,"date":16},{"year":2017,"month":2,"date":17},{"year":2017,"month":2,"date":27},{"year":2017,"month":2,"date":28},
{"year":2017,"month":3,"date":1},{"year":2017,"month":3,"date":3},{"year":2017,"month":3,"date":6},{"year":2017,"month":3,"date":7},{"year":2017,"month":3,"date":8},{"year":2017,"month":3,"date":9},{"year":2017,"month":3,"date":10},{"year":2017,"month":3,"date":14},{"year":2017,"month":3,"date":15},{"year":2017,"month":3,"date":16},{"year":2017,"month":3,"date":20},{"year":2017,"month":3,"date":21},{"year":2017,"month":3,"date":22},{"year":2017,"month":3,"date":23},{"year":2017,"month":3,"date":24},{"year":2017,"month":3,"date":28},{"year":2017,"month":3,"date":29},
{"year":2017,"month":4,"date":3},{"year":2017,"month":4,"date":5},{"year":2017,"month":4,"date":8},{"year":2017,"month":4,"date":9},{"year":2017,"month":4,"date":11},{"year":2017,"month":4,"date":15},
{"year":2017,"month":5,"date":2},{"year":2017,"month":5,"date":3},{"year":2017,"month":5,"date":6},{"year":2017,"month":5,"date":9},{"year":2017,"month":5,"date":16},{"year":2017,"month":5,"date":17},{"year":2017,"month":5,"date":20},{"year":2017,"month":5,"date":22},{"year":2017,"month":5,"date":31},
{"year":2017,"month":6,"date":8},{"year":2017,"month":6,"date":16},{"year":2017,"month":7,"date":1}
   ]}},
 "y":{"field":"value","type":"quantitative","scale":{"domain":[-6,6],"nice":false,"zero":false},
  "axis":{"values":[-6,-4,-2,0,2,4,6],"format":"d","labelPadding":3}}
},
"layer":[
 {"data":{"name":"bounds"},"mark":{"type":"rule","color":"#008000","strokeWidth":1.5},"encoding":{"x2":{"field":"end"}}},
 {"data":{"name":"series"},"transform":[{"filter":"datum.series == 'means'"}],"mark":{"type":"line","strokeWidth":1.8,"clip":true},
  "encoding":{"color":{"field":"series","type":"nominal","scale":{"domain":["means","variances","autocovariances"],"range":["#ff0000","#0000ff","#000000"]}}}},
 {"data":{"name":"series"},"transform":[{"filter":"datum.series == 'variances'"}],"mark":{"type":"line","strokeWidth":1.8,"clip":true},
  "encoding":{"color":{"field":"series","type":"nominal","scale":{"domain":["means","variances","autocovariances"],"range":["#ff0000","#0000ff","#000000"]}}}},
 {"data":{"name":"series"},"transform":[{"filter":"datum.series == 'autocovariances'"}],"mark":{"type":"line","strokeWidth":1.8,"clip":true},
  "encoding":{"color":{"field":"series","type":"nominal","scale":{"domain":["means","variances","autocovariances"],"range":["#ff0000","#0000ff","#000000"]}}}}
]
}
